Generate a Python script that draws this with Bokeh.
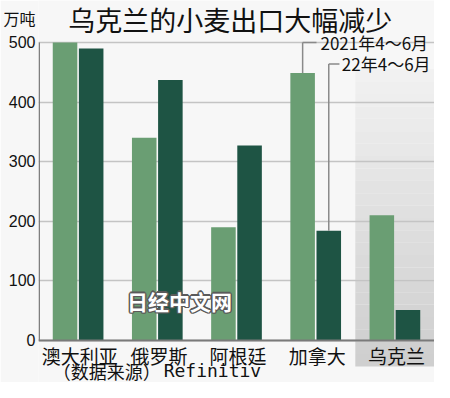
import numpy as np
from bokeh.plotting import figure
from bokeh.models import FactorRange, Range1d, Span, ColumnDataSource, FixedTicker
from bokeh.transform import dodge
from bokeh.core.properties import value
from bokeh.embed import file_html
from bokeh.resources import INLINE

# ---- data ----
countries = ["澳大利亚", "俄罗斯", "阿根廷", "加拿大", "乌克兰"]
exports_2021 = [500, 340, 190, 449, 210]   # 2021年4~6月, 万吨
exports_2022 = [490, 437, 327, 184, 51]    # 22年4~6月, 万吨
y_ticks = [0, 100, 200, 300, 400, 500]
title_text = "乌克兰的小麦出口大幅减少"
unit_text = "万吨"
legend_2021 = "2021年4～6月"
legend_2022 = "22年4～6月"
source_cn = "（数据来源）"
source_en = "Refinitiv"
watermark = "日经中文网"

# ---- layout ----
W, H = 434, 382
LEFT = 35
TOP_PX, ZERO_PX = 42, 340          # pixel rows of y=500 and y=0
S = (ZERO_PX - TOP_PX) / 500.0
def ydat(py):
    return (ZERO_PX - py) / S

UNIT_POS = round(ydat(19))          # axis position that carries the unit label

CJK = "Noto Sans CJK SC"
BG = "#f7f7f7"
LIGHT = "#6a9e73"
DARK = "#1e5444"
AXIS_C = "#7a7a7a"

p = figure(width=W, height=H,
           x_range=FactorRange(*countries, range_padding=0),
           y_range=Range1d(ydat(H), ydat(0)),
           x_axis_location=None,
           output_backend="svg", toolbar_location=None,
           min_border=0, min_border_left=LEFT,
           background_fill_color=BG, border_fill_color=BG,
           outline_line_color=None)

# y axis (tick labels + unit label on top)
ax = p.yaxis[0]
ax.ticker = FixedTicker(ticks=y_ticks + [UNIT_POS])
ax.major_label_overrides = {UNIT_POS: unit_text}
ax.bounds = (0, UNIT_POS)
ax.axis_line_color = None
ax.major_tick_in = 0
ax.major_tick_out = 0
ax.minor_tick_in = 0
ax.minor_tick_out = 0
ax.major_label_standoff = 3
ax.major_label_text_font = "'Liberation Sans', 'Noto Sans CJK SC', sans-serif"
ax.major_label_text_font_size = "16px"
ax.major_label_text_color = "#111111"

p.xgrid.visible = False
p.ygrid.ticker = FixedTicker(ticks=y_ticks)
p.ygrid.grid_line_color = "#c4c4c4"
p.ygrid.grid_line_width = 1.5

# shaded Ukraine panel (vertical gradient)
n = 24
edges = np.linspace(455, ydat(366), n + 1)
shades = np.linspace(0xf1, 0xcf, n).astype(int)
for i in range(n):
    c = "#%02x%02x%02x" % (shades[i], shades[i], shades[i])
    p.vbar(x=[countries[-1]], width=1.0, top=[edges[i]], bottom=[edges[i + 1]],
           fill_color=c, line_color=None, level="underlay")

src = ColumnDataSource(dict(c=countries, a=exports_2021, b=exports_2022))
p.vbar(x=dodge("c", -0.165, range=p.x_range), top="a", bottom=0, width=0.31,
       source=src, fill_color=LIGHT, line_color=None)
p.vbar(x=dodge("c", 0.165, range=p.x_range), top="b", bottom=0, width=0.31,
       source=src, fill_color=DARK, line_color=None)

# axis lines
p.add_layout(Span(location=0, dimension="width", line_color=AXIS_C, line_width=2))
vax = ColumnDataSource(dict(c=[countries[0]], y0=[y_ticks[0]], y1=[y_ticks[-1]]))
p.segment(x0=dodge("c", -0.491, range=p.x_range), y0="y0",
          x1=dodge("c", -0.491, range=p.x_range), y1="y1",
          source=vax, line_color=AXIS_C, line_width=1.5)

def txt(cat, off, y, t, size, color="#111111", font=CJK, align="left",
        weight="normal", xo=0, yo=0):
    s = ColumnDataSource(dict(x=[cat], y=[y], t=[t]))
    return p.text(x=dodge("x", off, range=p.x_range), y="y", text="t", source=s,
                  text_font=value(font), text_font_size=size, text_color=color,
                  text_align=align, text_baseline="middle", text_font_style=weight,
                  x_offset=xo, y_offset=yo)

# category labels
lab = ColumnDataSource(dict(c=countries, y=[ydat(355)] * len(countries)))
p.text(x=dodge("c", 0.02, range=p.x_range), y="y", text="c", source=lab,
       text_font=value(CJK), text_font_size="19px", text_color="#111111",
       text_align="center", text_baseline="middle")

# legend brackets on Canada
ci = countries.index("加拿大")
lv1, lv2 = 500, 464
def seg(x0off, y0, x1off, y1):
    s = ColumnDataSource(dict(c=[countries[ci]], y0=[y0], y1=[y1]))
    p.segment(x0=dodge("c", x0off, range=p.x_range), y0="y0",
              x1=dodge("c", x1off, range=p.x_range), y1="y1",
              source=s, line_color="#8a8a8a", line_width=1.5)
seg(-0.165, exports_2021[ci], -0.165, lv1)
seg(-0.165, lv1, 0.01, lv1)
seg(0.165, exports_2022[ci], 0.165, lv2)
seg(0.165, lv2, 0.30, lv2)
txt(countries[ci], 0.06, lv1, legend_2021, "17px")
txt(countries[ci], 0.33, lv2, legend_2022, "17px")

# title
txt("阿根廷", -0.08, ydat(19), title_text, "27px", align="center")

# source
txt(countries[0], -0.32, ydat(370), source_cn, "18px")
txt(countries[1], 0.08, ydat(370), source_en, "18px", font="DejaVu Sans Mono")

# watermark with outline
wy = ydat(300)
for dx, dy in [(-1.5, 0), (1.5, 0), (0, -1.5), (0, 1.5), (-1, -1), (1, 1), (-1, 1), (1, -1)]:
    txt(countries[1], 0.28, wy, watermark, "21px", color="#5a5a5a", align="center",
        weight="bold", xo=dx, yo=dy)
txt(countries[1], 0.28, wy, watermark, "21px", color="#ffffff", align="center", weight="bold")

open("out.html", "w").write(file_html(p, INLINE))
